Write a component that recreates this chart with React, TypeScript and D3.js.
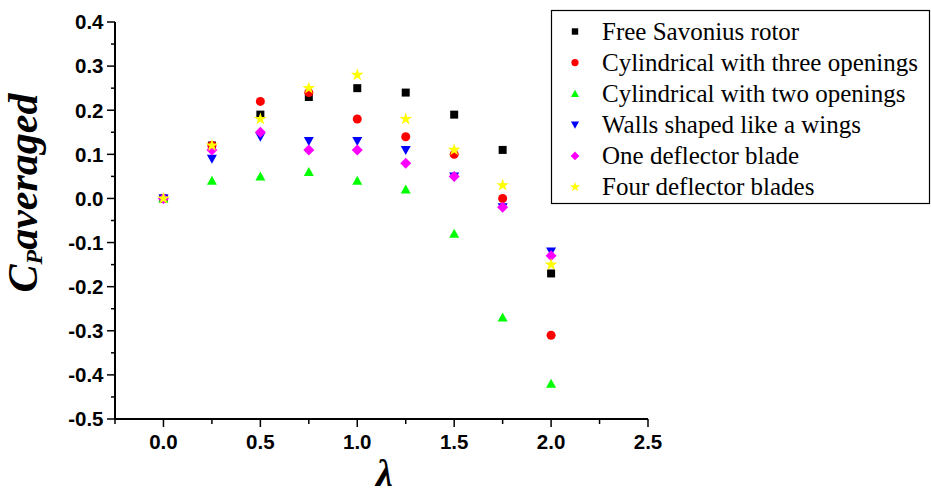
import React from "react";
import * as d3 from "d3";

const lambdas = [0, 0.25, 0.5, 0.75, 1.0, 1.25, 1.5, 1.75, 2.0];
const seriesNames = [
  "Free Savonius rotor",
  "Cylindrical with three openings",
  "Cylindrical with two openings",
  "Walls shaped like a wings",
  "One deflector blade",
  "Four deflector blades",
];
const freeSavonius = [0, 0.12, 0.19, 0.23, 0.25, 0.24, 0.19, 0.11, -0.17];
const cylThree = [0, 0.12, 0.22, 0.24, 0.18, 0.14, 0.1, 0.0, -0.31];
const cylTwo = [0, 0.04, 0.05, 0.06, 0.04, 0.02, -0.08, -0.27, -0.42];
const wallsWings = [0, 0.09, 0.14, 0.13, 0.13, 0.11, 0.05, -0.02, -0.12];
const oneDeflector = [0, 0.11, 0.15, 0.11, 0.11, 0.08, 0.05, -0.02, -0.13];
const fourDeflector = [0, 0.12, 0.18, 0.25, 0.28, 0.18, 0.11, 0.03, -0.15];
const seriesValues = [freeSavonius, cylThree, cylTwo, wallsWings, oneDeflector, fourDeflector];
const seriesColors = ["#000000", "#ff0000", "#00ff00", "#0000ff", "#ff00ff", "#ffff00"];
const seriesShapes = ["square", "circle", "triangle", "triangleDown", "diamond", "star"];
const xTicks = [0, 0.5, 1.0, 1.5, 2.0, 2.5];
const yTicks = [0.4, 0.3, 0.2, 0.1, 0.0, -0.1, -0.2, -0.3, -0.4, -0.5];

function markerPath(shape: string): string {
  switch (shape) {
    case "square":
      return "M-4,-4H4V4H-4Z";
    case "circle":
      return d3.symbol(d3.symbolCircle, 64)()!;
    case "triangle":
      return "M0,-5L5,4H-5Z";
    case "triangleDown":
      return "M0,5L5,-4H-5Z";
    case "diamond":
      return "M0,-5.5L5.5,0L0,5.5L-5.5,0Z";
    case "star":
      return d3.symbol(d3.symbolStar, 50)()!;
  }
  return "";
}

export default function App() {
  const W = 931, H = 488;
  const x = d3.scaleLinear().domain([-0.25, 2.5]).range([115, 648]);
  const y = d3.scaleLinear().domain([-0.5, 0.4]).range([419, 22]);
  const x0 = x(-0.25), y0 = y(-0.5);
  const xMinor = d3.range(-0.25, 2.5001, 0.25);
  const yMinor = d3.range(-0.5, 0.4001, 0.05);
  const tickFont = "'Liberation Sans', Arial, sans-serif";
  const serif = "'Liberation Serif', 'Times New Roman', serif";
  return (
    <svg width={W} height={H} style={{ position: "absolute", left: 0, top: 0, background: "#fff" }}>
      {/* axes */}
      <line x1={x0} x2={x0} y1={y(0.4)} y2={y0} stroke="#000" strokeWidth={2} />
      <line x1={x0} x2={x(2.5)} y1={y0} y2={y0} stroke="#000" strokeWidth={2} />
      {yMinor.map((v, i) => {
        const major = i % 2 === 0;
        return (
          <line key={"ym" + i} x1={x0} x2={x0 - (major ? 8 : 4)} y1={y(v)} y2={y(v)} stroke="#000" strokeWidth={1.5} />
        );
      })}
      {xMinor.map((v, i) => {
        const major = i % 2 === 1;
        return (
          <line key={"xm" + i} x1={x(v)} x2={x(v)} y1={y0} y2={y0 + (major ? 8 : 5)} stroke="#000" strokeWidth={1.5} />
        );
      })}
      {yTicks.map((v) => (
        <text key={"yt" + v} x={103.5} y={y(v)} dy="0.36em" textAnchor="end" fontFamily={tickFont} fontWeight="bold" fontSize={20.5}>
          {v.toFixed(1)}
        </text>
      ))}
      {xTicks.map((v) => (
        <text key={"xt" + v} x={x(v)} y={y0 + 30} textAnchor="middle" fontFamily={tickFont} fontWeight="bold" fontSize={20.5}>
          {v.toFixed(1)}
        </text>
      ))}
      {/* axis titles */}
      <text transform="translate(37,193) rotate(-90)" textAnchor="middle" fontFamily={serif} fontWeight="bold" fontStyle="italic" fontSize={42}>
        C<tspan fontSize={24} dy="5">P</tspan><tspan dy="-5">averaged</tspan>
      </text>
      <text x={(x0 + x(2.5)) / 2 + 3} y={486} textAnchor="middle" fontFamily={serif} fontWeight="bold" fontStyle="italic" fontSize={38}>
        λ
      </text>
      {/* data */}
      {seriesValues.map((vals, si) => (
        <g key={"s" + si} fill={seriesColors[si]}>
          {vals.map((v, i) => (
            <path key={i} d={markerPath(seriesShapes[si])} transform={`translate(${x(lambdas[i])},${y(v)})`} />
          ))}
        </g>
      ))}
      {/* legend */}
      <rect x={551.5} y={10.5} width={378} height={193} fill="#fff" stroke="#000" strokeWidth={1.2} />
      {seriesNames.map((name, i) => {
        const cy = 31.5 + i * 31.1;
        return (
          <g key={"l" + i}>
            <path d={markerPath(seriesShapes[i])} transform={`translate(575,${cy}) scale(0.8)`} fill={seriesColors[i]} />
            <text x={602} y={cy} dy="0.33em" fontFamily={serif} fontSize={25}>
              {name}
            </text>
          </g>
        );
      })}
    </svg>
  );
}
